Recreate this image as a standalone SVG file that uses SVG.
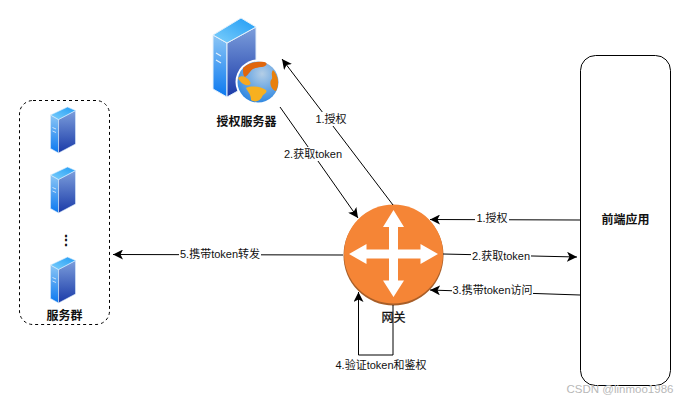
<svg xmlns="http://www.w3.org/2000/svg" width="688" height="403" viewBox="0 0 688 403">
<style>
text{font-family:"Liberation Sans","Noto Sans CJK SC",sans-serif;font-size:11px;fill:#111;text-anchor:middle}
.b{font-weight:bold;font-size:12px}
.c{fill:none;stroke:#000;stroke-width:1;marker-end:url(#a)}
.lb{fill:#fff;stroke:none}
</style>
<defs>
<marker id="a" markerUnits="userSpaceOnUse" markerWidth="12" markerHeight="10" refX="10" refY="5" orient="auto"><path d="M0 0L10 5L0 10L2.500 5Z" fill="#000"/></marker>
<linearGradient id="f" x1="0" y1="0" x2="0" y2="1"><stop offset="0" stop-color="#8cc6f5"/><stop offset="1" stop-color="#0a78f0"/></linearGradient>
<linearGradient id="s" x1="0" y1="0" x2="0" y2="1"><stop offset="0" stop-color="#7d9fdc"/><stop offset="1" stop-color="#1a3aa8"/></linearGradient>
<linearGradient id="t" x1="0" y1="1" x2="1" y2="0"><stop offset="0" stop-color="#7fd0fb"/><stop offset="1" stop-color="#1f9bf5"/></linearGradient>
<g id="srv">
<path d="M0 8L8 12.500V46L0 41.500Z" fill="url(#f)" stroke="#dcecfb" stroke-width=".6"/>
<path d="M8 12.500L25 3.500V37L8 46Z" fill="url(#s)" stroke="#dcecfb" stroke-width=".6"/>
<path d="M0 8L17 0L25 3.500L8 12.500Z" fill="url(#t)" stroke="#dcecfb" stroke-width=".6"/>
<path d="M2 20.500L5.500 22M2 24L5.500 25.500" stroke="#e4f0fb" stroke-width=".8"/>
</g>
<radialGradient id="g" cx=".6" cy=".3" r=".8"><stop offset="0" stop-color="#b4cee6"/><stop offset="1" stop-color="#1f7fe0"/></radialGradient>
</defs>
<rect width="688" height="403" fill="#fff"/>

<g id="auth-server">
<path d="M213 35L227 43V97L213 89Z" fill="url(#f)" stroke="#e4f0fb"/>
<path d="M227 43L256 27V81L227 97Z" fill="url(#s)" stroke="#e4f0fb"/>
<path d="M213 35L241 18L256 27L227 43Z" fill="url(#t)" stroke="#e4f0fb"/>
<path d="M216 53L221 56M216 60L221 63" stroke="#e4f0fb" stroke-width="1.200"/>
<circle cx="258" cy="82" r="22.500" fill="#fff"/>
<circle cx="258" cy="82" r="20.500" fill="url(#g)"/>
<path d="M243 68C248 63 256 61 264 62C269 63 266 67 261 67C256 68 252 68 250 72C248 74 247 76 245 77C243 76 243 72 243 68Z" fill="#e0660c"/>
<path d="M238 78C241 75 245 76 248 79C250 81 252 84 249 85C246 86 241 84 238 78Z" fill="#f7a820"/>
<path d="M246 88C252 85 262 87 266 90C268 93 263 94 262 97C260 101 255 103 251 100C251 94 248 92 246 88Z" fill="#f7b020"/>
<path d="M273 70C278 75 280 84 276 91C272 90 269 84 271 80C274 78 270 74 273 70Z" fill="#e8800c"/>
<text class="b" x="246.500" y="126">授权服务器</text>
</g>

<g id="server-cluster">
<rect x="19.500" y="100.500" width="90" height="224" rx="13.500" fill="none" stroke="#000" stroke-dasharray="3 3"/>
<use href="#srv" x="50.500" y="107"/>
<use href="#srv" x="50.500" y="167"/>
<use href="#srv" x="50.500" y="257"/>
<text x="66" y="245" style="font-size:14px;font-weight:bold">⋮</text>
<text class="b" x="64.500" y="320">服务群</text>
</g>

<g id="gateway">
<circle cx="393.500" cy="255.500" r="50" fill="#a85e28"/>
<circle cx="393.500" cy="254" r="49.500" fill="#f58536"/>
<path d="M393.500 210L404 227H398V249.500H420.500V244L438 254L420.500 264V258.500H398V280.500H404L393.500 297L383 280.500H389V258.500H366.500V264L349 254L366.500 244V249.500H389V227H383Z" fill="#fff"/>
<text class="b" x="393.500" y="322" style="font-weight:normal;stroke:#111;stroke-width:.3">网关</text>
</g>

<g id="frontend">
<rect x="580.500" y="55.500" width="90" height="330" rx="15" fill="#fff" stroke="#000"/>
<text class="b" x="625.500" y="224">前端应用</text>
</g>

<g id="connectors">
<path class="c" d="M393 205L282 59"/>
<path class="c" d="M280 107L358 218"/>
<path class="c" d="M580 220L430 219.500"/>
<path class="c" d="M443 254L577 257"/>
<path class="c" d="M580 295L430 290"/>
<path class="c" d="M343 255L113 254.500"/>
<path class="c" d="M393 305V355H358.500V292"/>
</g>
<g id="labels">
<rect class="lb" x="314" y="112" width="34" height="14"/><text x="331" y="123">1.授权</text>
<rect class="lb" x="282" y="147" width="62" height="14"/><text x="313" y="158">2.获取token</text>
<rect class="lb" x="475" y="212" width="34" height="14"/><text x="492" y="222">1.授权</text>
<rect class="lb" x="471" y="249" width="60" height="14"/><text x="501" y="260">2.获取token</text>
<rect class="lb" x="452" y="283" width="81" height="14"/><text x="492.500" y="294">3.携带token访问</text>
<rect class="lb" x="179" y="247" width="82" height="14"/><text x="220" y="258">5.携带token转发</text>
<rect class="lb" x="335" y="358" width="92" height="14"/><text x="381" y="369">4.验证token和鉴权</text>
</g>
<text x="620" y="393" style="font-size:11.500px;fill:#b8b8b8">CSDN @linmoo1986</text>
</svg>
